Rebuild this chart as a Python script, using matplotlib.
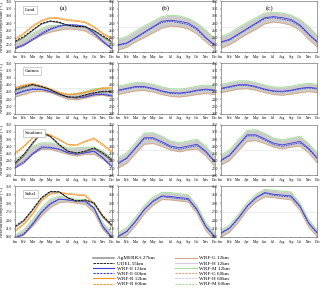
import matplotlib
matplotlib.use('Agg')
import matplotlib.pyplot as plt
from matplotlib.lines import Line2D

plt.rcParams['font.family'] = ['Liberation Serif', 'DejaVu Serif']

months = ['Jan', 'Feb', 'Mar', 'Apr', 'May', 'Jun', 'Jul', 'Aug', 'Sep', 'Oct', 'Nov', 'Dec']
regions = ['Land', 'Guinea', 'Soudano', 'Sahel']
panels = ['(a)', '(b)', '(c)']

# column (a): observations and all models, order: Land, Guinea, Soudano, Sahel
udel = [
    [23.0, 24.3, 26.1, 27.9, 28.6, 28.3, 27.4, 27.1, 27.0, 26.0, 24.5, 23.0],
    [26.7, 27.5, 28.1, 27.5, 26.7, 25.5, 24.6, 24.6, 25.2, 25.8, 26.2, 26.2],
    [23.4, 25.8, 29.0, 31.9, 30.9, 28.6, 26.7, 26.2, 26.7, 27.6, 26.2, 24.4],
    [21.8, 24.0, 27.8, 32.0, 34.2, 34.1, 32.0, 30.8, 31.2, 30.2, 25.4, 22.4],
]
agmerra = [
    [22.7, 24.0, 25.9, 27.7, 28.5, 28.1, 27.3, 27.0, 26.9, 25.8, 24.2, 22.7],
    [26.4, 27.2, 27.9, 27.4, 26.6, 25.4, 24.5, 24.4, 25.0, 25.6, 26.0, 26.0],
    [23.0, 25.4, 28.7, 31.6, 30.7, 28.4, 26.6, 26.0, 26.5, 27.3, 25.9, 24.0],
    [21.4, 23.6, 27.5, 31.7, 34.0, 34.0, 31.9, 30.6, 31.0, 29.9, 25.0, 22.0],
]
r12 = [
    [23.4, 25.0, 27.0, 28.5, 29.4, 29.2, 28.7, 28.5, 28.1, 26.8, 25.0, 23.6],
    [27.1, 27.8, 28.2, 27.5, 26.7, 25.8, 25.2, 25.4, 25.8, 26.4, 27.0, 27.1],
    [26.2, 28.1, 30.4, 31.9, 31.2, 30.0, 28.6, 28.4, 29.5, 30.3, 28.6, 26.7],
    [20.0, 22.4, 26.0, 30.8, 33.2, 33.8, 33.2, 32.9, 32.6, 29.6, 25.4, 21.8],
]
r60 = [
    [23.7, 25.3, 27.3, 28.8, 29.6, 29.5, 29.0, 28.8, 28.4, 27.1, 25.3, 23.9],
    [27.3, 28.0, 28.4, 27.8, 27.0, 26.0, 25.4, 25.6, 26.0, 26.6, 27.2, 27.3],
    [25.8, 27.8, 30.2, 31.6, 31.0, 29.8, 28.4, 28.2, 29.2, 29.9, 28.2, 26.3],
    [20.4, 22.8, 26.4, 31.2, 33.5, 34.0, 33.5, 33.3, 33.0, 30.0, 25.8, 22.2],
]
e12_a = [
    [20.9, 21.8, 23.3, 24.9, 26.2, 27.1, 27.5, 27.5, 27.1, 25.3, 23.0, 21.0],
    [25.3, 26.2, 26.7, 26.7, 26.1, 25.3, 24.6, 24.3, 24.6, 25.2, 25.3, 24.9],
    [22.0, 23.4, 25.8, 27.6, 27.6, 27.2, 26.2, 25.8, 26.2, 26.7, 24.9, 22.5],
    [17.6, 18.8, 22.4, 26.6, 29.6, 31.4, 31.2, 30.8, 30.8, 28.4, 21.8, 18.0],
]
e60_a = [
    [21.2, 22.1, 23.6, 25.2, 26.5, 27.3, 27.6, 27.4, 26.9, 25.1, 22.8, 20.8],
    [25.6, 26.4, 26.9, 26.8, 26.2, 25.4, 24.7, 24.4, 24.7, 25.3, 25.5, 25.1],
    [22.3, 23.7, 26.1, 27.9, 27.8, 27.3, 26.3, 25.9, 26.3, 26.6, 24.7, 22.3],
    [17.9, 19.2, 22.8, 27.0, 29.9, 31.5, 31.2, 30.6, 30.5, 28.0, 21.4, 17.8],
]
g12_a = [
    [20.9, 22.0, 23.4, 24.6, 25.5, 26.0, 26.4, 26.2, 25.8, 24.4, 22.6, 20.9],
    [24.6, 25.3, 26.0, 26.2, 25.8, 24.9, 24.0, 23.8, 24.3, 24.9, 25.1, 24.6],
    [22.5, 23.9, 25.8, 27.2, 27.2, 26.5, 25.8, 25.3, 25.8, 25.8, 24.4, 22.5],
    [17.3, 18.8, 21.8, 25.4, 28.4, 30.2, 30.5, 30.0, 29.6, 26.6, 20.6, 17.3],
]
m12_a = [
    [22.6, 23.6, 25.2, 26.5, 27.4, 27.4, 27.3, 27.3, 27.1, 25.8, 24.0, 22.6],
    [26.5, 27.3, 28.0, 27.5, 26.7, 25.8, 25.3, 25.5, 26.2, 26.9, 27.1, 26.7],
    [24.4, 25.8, 28.1, 29.0, 29.0, 28.4, 27.6, 27.6, 27.8, 27.8, 26.7, 24.9],
    [18.5, 20.6, 24.2, 28.4, 31.4, 32.6, 32.0, 31.4, 31.4, 28.4, 23.0, 19.4],
]

# column (b)
e12_b = [
    [22.0, 22.5, 24.0, 25.5, 27.0, 28.5, 28.8, 28.5, 28.0, 26.5, 24.0, 22.0],
    [26.5, 27.0, 27.5, 27.5, 27.0, 26.3, 25.8, 25.7, 26.0, 26.5, 26.8, 26.5],
    [23.4, 24.8, 27.6, 30.4, 30.4, 29.3, 28.1, 27.6, 28.1, 28.6, 26.7, 23.9],
    [18.2, 20.0, 23.6, 27.8, 30.8, 32.6, 32.4, 32.0, 31.7, 27.8, 21.8, 18.2],
]
e60_b = [
    [21.8, 22.3, 23.8, 25.3, 26.8, 28.2, 28.5, 28.1, 27.6, 26.2, 23.8, 21.8],
    [26.3, 26.8, 27.3, 27.3, 26.8, 26.1, 25.6, 25.5, 25.8, 26.3, 26.6, 26.3],
    [23.2, 24.6, 27.4, 30.1, 30.1, 29.0, 27.7, 27.2, 27.7, 28.2, 26.4, 23.7],
    [18.0, 19.8, 23.4, 27.6, 30.6, 32.4, 32.0, 31.6, 31.3, 27.5, 21.6, 18.0],
]
g12_b = [
    [20.5, 21.3, 22.8, 24.0, 25.3, 26.6, 27.2, 27.0, 26.4, 25.0, 22.8, 20.8],
    [25.3, 25.8, 26.3, 26.4, 26.0, 25.3, 24.8, 24.6, 24.9, 25.3, 25.6, 25.3],
    [22.0, 23.3, 26.0, 28.6, 28.8, 28.0, 27.0, 26.5, 27.0, 27.3, 25.4, 22.5],
    [16.7, 18.5, 22.0, 26.2, 29.3, 31.3, 31.2, 30.8, 30.4, 26.3, 20.3, 16.7],
]
m12_b = [
    [23.5, 24.3, 25.8, 27.2, 28.5, 29.8, 30.2, 30.0, 29.3, 28.0, 26.0, 23.8],
    [27.6, 28.1, 28.6, 28.6, 28.1, 27.4, 26.9, 26.8, 27.1, 27.6, 27.9, 27.6],
    [24.8, 26.2, 29.0, 31.7, 31.8, 30.8, 29.5, 29.0, 29.5, 30.0, 28.0, 25.3],
    [19.4, 21.3, 25.0, 29.2, 32.2, 33.9, 33.8, 33.4, 33.0, 29.1, 23.1, 19.4],
]

# column (c)
e12_c = [
    [22.8, 23.5, 25.0, 26.5, 28.0, 29.5, 29.8, 29.5, 29.0, 27.5, 25.0, 22.8],
    [27.0, 27.5, 28.0, 28.0, 27.5, 26.8, 26.3, 26.2, 26.5, 27.0, 27.3, 27.0],
    [24.2, 25.6, 28.4, 31.2, 31.2, 30.1, 28.9, 28.4, 28.9, 29.4, 27.5, 24.7],
    [19.4, 21.2, 24.8, 29.0, 32.0, 33.8, 33.2, 32.9, 32.6, 29.0, 23.0, 19.4],
]
e60_c = [
    [22.6, 23.3, 24.8, 26.3, 27.8, 29.2, 29.5, 29.1, 28.6, 27.2, 24.8, 22.6],
    [26.8, 27.3, 27.8, 27.8, 27.3, 26.6, 26.1, 26.0, 26.3, 26.8, 27.1, 26.8],
    [24.0, 25.4, 28.2, 30.9, 30.9, 29.8, 28.5, 28.0, 28.5, 29.0, 27.2, 24.5],
    [19.2, 21.0, 24.6, 28.8, 31.8, 33.6, 32.8, 32.5, 32.2, 28.7, 22.8, 19.2],
]
g12_c = [
    [21.0, 22.0, 23.5, 25.0, 26.3, 27.8, 28.3, 28.0, 27.4, 26.0, 23.5, 21.3],
    [25.8, 26.3, 26.8, 26.9, 26.5, 25.8, 25.3, 25.1, 25.4, 25.8, 26.1, 25.8],
    [22.8, 24.1, 26.8, 29.4, 29.6, 28.8, 27.8, 27.3, 27.8, 28.1, 26.2, 23.3],
    [17.9, 19.7, 23.3, 27.5, 30.5, 32.3, 32.0, 31.6, 31.2, 27.5, 21.5, 17.9],
]
m12_c = [
    [24.3, 25.2, 26.8, 28.2, 29.5, 30.8, 31.0, 30.8, 30.2, 29.0, 27.0, 24.5],
    [28.1, 28.6, 29.1, 29.1, 28.6, 27.9, 27.4, 27.3, 27.6, 28.1, 28.4, 28.1],
    [25.6, 27.0, 29.8, 32.5, 32.6, 31.6, 30.3, 29.8, 30.3, 30.8, 28.8, 26.1],
    [20.4, 22.3, 26.0, 30.2, 33.2, 35.0, 34.6, 34.3, 34.0, 30.1, 24.1, 20.4],
]

yticks_std = [20, 22, 24, 26, 28, 30, 32, 34]
yticks_sahel = [18, 21, 24, 27, 30, 33, 36]

c_blue = '#3b3bdc'
c_orange = '#f7941d'
c_tan = '#d9a57e'
c_lav = '#d7c8ee'
c_green = '#a6e09c'
c_band = '#bfbfbf'

cols = [(e12_a, e60_a, g12_a, m12_a), (e12_b, e60_b, g12_b, m12_b), (e12_c, e60_c, g12_c, m12_c)]

fig = plt.figure(figsize=(3.2, 2.9), dpi=100)
gs = fig.add_gridspec(4, 3, left=0.047, right=0.992, top=0.995, bottom=0.183,
                      hspace=0.22, wspace=0.065)
x = list(range(12))

for r in range(4):
    for c in range(3):
        ax = fig.add_subplot(gs[r, c])
        e12, e60, g12, m12 = cols[c]
        ax.fill_between(x, g12[r], m12[r], color=c_band, lw=0, alpha=0.8)
        ax.plot(x, g12[r], color=c_tan, lw=0.6)
        ax.plot(x, m12[r], color=c_green, lw=0.7)
        ax.plot(x, e60[r], color=c_blue, lw=0.6, ls='--', dashes=(2, 1))
        ax.plot(x, e12[r], color=c_blue, lw=0.6)
        if c == 0:
            ax.plot(x, r60[r], color=c_orange, lw=0.6, ls='--', dashes=(2, 1))
            ax.plot(x, r12[r], color=c_orange, lw=0.6)
            ax.plot(x, agmerra[r], color='#777777', lw=0.8)
            ax.plot(x, udel[r], color='black', lw=0.6, ls='--', dashes=(3, 1))
            ax.text(0.1, 0.84, regions[r], transform=ax.transAxes, fontsize=3.6,
                    ha='left', va='center',
                    bbox=dict(boxstyle='square,pad=0.4', fc='white', ec='#aaaaaa', lw=0.4))
            ax.set_ylabel('Near-surface temperature [°C]', fontsize=3, labelpad=1)
        ax.axhline(27, color='#dddddd', lw=0.4, zorder=0)
        if r == 3:
            ax.set_ylim(18, 36)
            ax.set_yticks(yticks_sahel)
        else:
            ax.set_ylim(20, 34)
            ax.set_yticks(yticks_std)
        ax.set_yticklabels(['%.1f' % v for v in ax.get_yticks()])
        ax.set_xlim(0, 11)
        ax.set_xticks(x)
        ax.set_xticklabels(months)
        ax.tick_params(labelsize=2.6, length=1, width=0.3, pad=1)
        for s in ax.spines.values():
            s.set_linewidth(0.4)
            s.set_color('#555555')
        if r == 0:
            ax.text(0.5, 0.87, panels[c], transform=ax.transAxes, fontsize=5,
                    ha='center', va='center')

handles = [
    Line2D([], [], color='#999999', lw=1.2),
    Line2D([], [], color='black', lw=0.6, ls='--', dashes=(3, 1)),
    Line2D([], [], color=c_blue, lw=0.8),
    Line2D([], [], color=c_blue, lw=0.8, ls='--', dashes=(2, 1)),
    Line2D([], [], color=c_orange, lw=0.8),
    Line2D([], [], color=c_orange, lw=0.8, ls='--', dashes=(2, 1)),
    Line2D([], [], color=c_tan, lw=0.8),
    Line2D([], [], color=c_lav, lw=0.8),
    Line2D([], [], color=c_green, lw=0.8),
    Line2D([], [], color=c_tan, lw=0.8, ls='--', dashes=(2, 1)),
    Line2D([], [], color=c_lav, lw=0.8, ls='--', dashes=(2, 1)),
    Line2D([], [], color=c_green, lw=0.8, ls='--', dashes=(2, 1)),
]
labels = ['AgMERRA 27km', 'UDEL 55km', 'WRF-E 12km', 'WRF-E 60km', 'WRF-R 12km', 'WRF-R 60km',
          'WRF-G 12km', 'WRF-H 12km', 'WRF-M 12km', 'WRF-G 60km', 'WRF-H 60km', 'WRF-M 60km']
fig.legend(handles, labels, loc='upper left', bbox_to_anchor=(0.29, 0.118), ncol=2,
           fontsize=3.7, frameon=False, handlelength=4.2, columnspacing=4,
           labelspacing=0.12, handletextpad=0.5, borderaxespad=0, borderpad=0)

fig.savefig('out.png', dpi=100)
